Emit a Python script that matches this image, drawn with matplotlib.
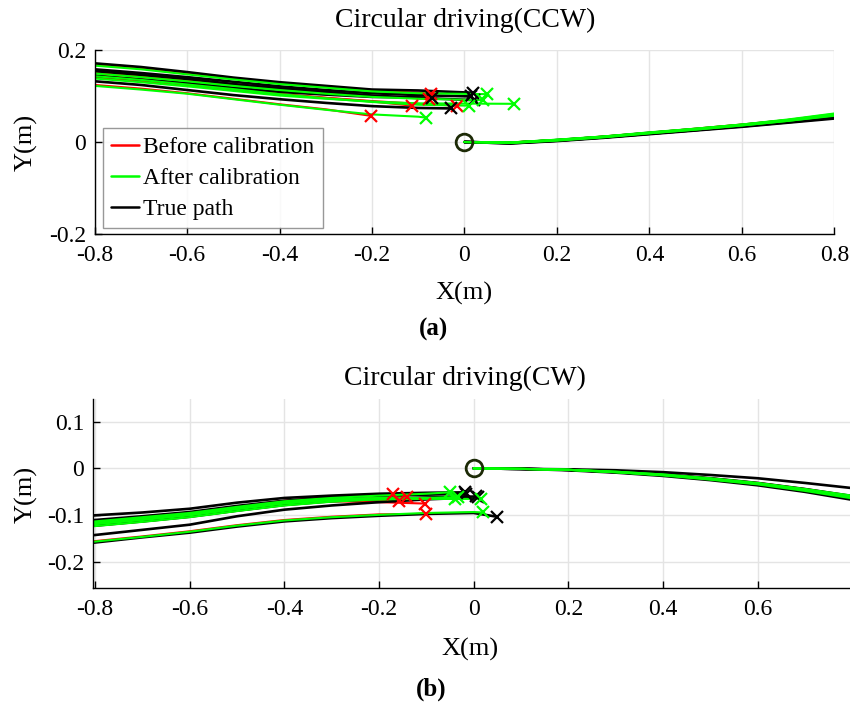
import matplotlib

matplotlib.use("Agg")
import matplotlib.pyplot as plt
import numpy as np

plt.rcParams["font.family"] = ["Liberation Serif", "DejaVu Serif"]
plt.rcParams["font.size"] = 17

# --- CCW run: x grids for the outgoing (right) and returning (left) legs ----
ccw_right_x = [0.0, 0.1, 0.2, 0.3, 0.4, 0.5, 0.6, 0.7, 0.8, 0.85]
ccw_left_x = [-0.85, -0.8, -0.7, -0.6, -0.5, -0.4, -0.3, -0.2, -0.1]

ccw_true_right = [
    [0, -0.002, 0.003, 0.010, 0.018, 0.026, 0.034, 0.043, 0.053, 0.058],
    [0, -0.003, 0.002, 0.009, 0.017, 0.025, 0.033, 0.042, 0.051, 0.056],
    [0, -0.002, 0.004, 0.011, 0.019, 0.027, 0.036, 0.045, 0.056, 0.061],
    [0, -0.003, 0.003, 0.010, 0.018, 0.026, 0.035, 0.044, 0.054, 0.059],
    [0, -0.002, 0.004, 0.011, 0.020, 0.028, 0.037, 0.047, 0.058, 0.063],
]
ccw_after_right = [
    [0, -0.001, 0.005, 0.012, 0.020, 0.029, 0.038, 0.048, 0.061, 0.067],
    [0, -0.002, 0.004, 0.011, 0.019, 0.027, 0.036, 0.046, 0.058, 0.063],
    [0, -0.001, 0.004, 0.011, 0.020, 0.028, 0.037, 0.047, 0.060, 0.066],
    [0, -0.002, 0.003, 0.010, 0.019, 0.027, 0.036, 0.046, 0.057, 0.062],
    [0, -0.001, 0.005, 0.012, 0.021, 0.029, 0.038, 0.049, 0.062, 0.068],
]
ccw_before_right = [
    [0, -0.001, 0.004, 0.011, 0.020, 0.028, 0.037, 0.047, 0.059, 0.065],
    [0, -0.002, 0.003, 0.010, 0.018, 0.026, 0.035, 0.045, 0.056, 0.061],
    [0, -0.001, 0.004, 0.011, 0.019, 0.028, 0.037, 0.047, 0.059, 0.064],
    [0, -0.002, 0.003, 0.010, 0.018, 0.026, 0.035, 0.045, 0.056, 0.061],
    [0, -0.001, 0.004, 0.012, 0.020, 0.029, 0.038, 0.048, 0.060, 0.066],
]
ccw_true_left = [
    [0.176, 0.171, 0.163, 0.152, 0.140, 0.130, 0.122, 0.114, 0.112],
    [0.163, 0.158, 0.150, 0.141, 0.131, 0.121, 0.113, 0.106, 0.102],
    [0.159, 0.154, 0.146, 0.137, 0.126, 0.117, 0.109, 0.101, 0.096],
    [0.149, 0.144, 0.136, 0.128, 0.118, 0.109, 0.103, 0.098, 0.097],
    [0.137, 0.132, 0.124, 0.113, 0.102, 0.093, 0.085, 0.078, 0.074],
]
ccw_after_left = [
    [0.171, 0.166, 0.158, 0.147, 0.136, 0.126, 0.118, 0.110, 0.106],
    [0.154, 0.149, 0.141, 0.132, 0.122, 0.113, 0.105, 0.098, 0.094],
    [0.143, 0.138, 0.130, 0.121, 0.111, 0.101, 0.094, 0.088, 0.084],
    [0.148, 0.143, 0.135, 0.125, 0.115, 0.104, 0.095, 0.087, 0.081],
    [0.127, 0.122, 0.114, 0.105, 0.093, 0.081, 0.070, 0.060, 0.055],
]
ccw_before_left = [
    [0.173, 0.168, 0.160, 0.149, 0.138, 0.128, 0.120, 0.112, 0.107],
    [0.156, 0.151, 0.143, 0.134, 0.124, 0.115, 0.107, 0.100, 0.095],
    [0.145, 0.140, 0.132, 0.123, 0.113, 0.103, 0.096, 0.089, 0.083],
    [0.150, 0.145, 0.137, 0.127, 0.116, 0.105, 0.096, 0.088],
    [0.129, 0.124, 0.116, 0.106, 0.094, 0.082, 0.071],
]
ccw_true_end = [(0.019, 0.107), (0.015, 0.099), (0.021, 0.091), (-0.070, 0.096), (-0.029, 0.073)]
ccw_after_end = [(0.049, 0.104), (0.041, 0.091), (0.108, 0.083), (0.009, 0.079), (-0.084, 0.053)]
ccw_before_end = [(-0.073, 0.105), (-0.077, 0.094), (-0.016, 0.079), (-0.113, 0.079), (-0.203, 0.057)]

# --- CW run ------------------------------------------------------------------
cw_right_x = [0.0, 0.1, 0.2, 0.3, 0.4, 0.5, 0.6, 0.7, 0.8, 0.85]
cw_left_x = [-0.85, -0.8, -0.7, -0.6, -0.5, -0.4, -0.3, -0.2, -0.1, 0.0]

cw_true_right = [
    [0, -0.001, -0.003, -0.007, -0.013, -0.021, -0.031, -0.044, -0.059, -0.066],
    [0, -0.001, -0.002, -0.004, -0.008, -0.014, -0.021, -0.031, -0.042, -0.048],
    [0, -0.001, -0.003, -0.008, -0.014, -0.023, -0.034, -0.047, -0.063, -0.071],
    [0, -0.001, -0.003, -0.007, -0.013, -0.022, -0.033, -0.046, -0.061, -0.069],
    [0, -0.001, -0.004, -0.009, -0.016, -0.025, -0.036, -0.050, -0.067, -0.075],
]
cw_after_right = [
    [0, -0.001, -0.003, -0.008, -0.014, -0.022, -0.032, -0.045, -0.060, -0.068],
    [0, -0.001, -0.003, -0.007, -0.013, -0.021, -0.031, -0.044, -0.058, -0.065],
    [0, -0.001, -0.003, -0.008, -0.014, -0.023, -0.033, -0.046, -0.062, -0.070],
    [0, -0.001, -0.003, -0.007, -0.013, -0.022, -0.032, -0.045, -0.060, -0.067],
    [0, -0.001, -0.003, -0.008, -0.015, -0.024, -0.034, -0.048, -0.064, -0.072],
]
cw_before_right = [
    [0, -0.001, -0.003, -0.007, -0.014, -0.022, -0.032, -0.045, -0.060, -0.067],
    [0, -0.001, -0.003, -0.007, -0.013, -0.021, -0.031, -0.044, -0.059, -0.066],
    [0, -0.001, -0.003, -0.008, -0.014, -0.023, -0.033, -0.047, -0.062, -0.070],
    [0, -0.001, -0.003, -0.007, -0.013, -0.022, -0.032, -0.045, -0.060, -0.068],
    [0, -0.001, -0.003, -0.008, -0.015, -0.024, -0.034, -0.048, -0.064, -0.071],
]
cw_true_left = [
    [-0.163, -0.158, -0.147, -0.137, -0.124, -0.113, -0.106, -0.101, -0.097, -0.095],
    [-0.105, -0.100, -0.094, -0.086, -0.073, -0.063, -0.058, -0.054, -0.052],
    [-0.147, -0.142, -0.131, -0.120, -0.102, -0.088, -0.079, -0.072, -0.066, -0.062],
    [-0.115, -0.110, -0.102, -0.093, -0.080, -0.069, -0.062, -0.058, -0.056],
    [-0.127, -0.122, -0.113, -0.103, -0.090, -0.078, -0.070, -0.065, -0.062, -0.060],
]
cw_after_left = [
    [-0.161, -0.156, -0.146, -0.135, -0.122, -0.111, -0.104, -0.099, -0.095, -0.093],
    [-0.118, -0.113, -0.104, -0.095, -0.082, -0.070, -0.063, -0.058, -0.054],
    [-0.124, -0.119, -0.110, -0.100, -0.087, -0.075, -0.068, -0.066, -0.065, -0.065],
    [-0.128, -0.123, -0.114, -0.104, -0.091, -0.079, -0.071, -0.066, -0.063],
    [-0.121, -0.116, -0.107, -0.098, -0.085, -0.073, -0.066, -0.063, -0.063],
]
cw_before_left = [
    [-0.160, -0.155, -0.145, -0.134, -0.121, -0.110, -0.103, -0.098],
    [-0.117, -0.112, -0.103, -0.094, -0.081, -0.069, -0.061, -0.056],
    [-0.125, -0.120, -0.111, -0.101, -0.088, -0.076, -0.070, -0.068],
    [-0.127, -0.122, -0.113, -0.103, -0.090, -0.078, -0.069, -0.063],
    [-0.122, -0.117, -0.108, -0.099, -0.086, -0.075, -0.070, -0.072],
]
cw_true_end = [(0.049, -0.103), (-0.019, -0.051), (0.009, -0.060), (-0.017, -0.054), (0.005, -0.058)]
cw_after_end = [(0.020, -0.094), (-0.051, -0.051), (0.016, -0.065), (-0.033, -0.061), (-0.040, -0.065)]
cw_before_end = [(-0.100, -0.097), (-0.171, -0.054), (-0.157, -0.069), (-0.140, -0.061), (-0.102, -0.075)]

SERIES = [
    ("Before calibration", "#ff0000", 1.5),
    ("After calibration", "#00ff00", 1.5),
    ("True path", "black", 1.9),
]


def path(right_x, right_y, left_x, left_y, end):
    # outgoing leg from the origin, gap, then the returning leg to the end point
    xs = list(right_x) + [np.nan] + list(left_x[: len(left_y)]) + [end[0]]
    ys = list(right_y) + [np.nan] + list(left_y) + [end[1]]
    return xs, ys


def draw(ax, right_x, left_x, runs):
    handles = {}
    order = [0, 2, 1]  # red under black, green on top
    for k in order:
        label, color, lw = SERIES[k]
        rights, lefts, ends = runs[k]
        for ry, ly, end in zip(rights, lefts, ends):
            xs, ys = path(right_x, ry, left_x, ly, end)
            (ln,) = ax.plot(xs, ys, color=color, lw=lw, solid_capstyle="round")
            handles[k] = ln
    for k in order:
        label, color, lw = SERIES[k]
        ends = runs[k][2]
        ax.plot([e[0] for e in ends], [e[1] for e in ends], "x", color=color,
                ms=9, mew=1.6, zorder=4)
    ax.plot([0], [0], "o", ms=12, mfc="none", mec="#1c2a06", mew=2, zorder=5)
    return [handles[0], handles[1], handles[2]]


def style(ax):
    for s in ("top", "right"):
        ax.spines[s].set_visible(False)
    for s in ("left", "bottom"):
        ax.spines[s].set_linewidth(1.0)
    ax.tick_params(direction="in", length=5, width=1, labelsize=17)
    ax.tick_params(axis="x", pad=8)
    ax.tick_params(axis="y", pad=6)
    ax.grid(True, color="#e4e4e4", lw=1)
    ax.set_axisbelow(True)


fig = plt.figure(figsize=(8.5, 7.05), dpi=100)
W, H = 850, 705

# --- (a) CCW -----------------------------------------------------------------
ax1 = fig.add_axes([94.7 / W, 1 - 234 / H, 739.6 / W, 184 / H])
h = draw(ax1, ccw_right_x, ccw_left_x, [
    (ccw_before_right, ccw_before_left, ccw_before_end),
    (ccw_after_right, ccw_after_left, ccw_after_end),
    (ccw_true_right, ccw_true_left, ccw_true_end),
])
ax1.set_xlim(-0.8, 0.8)
ax1.set_ylim(-0.2, 0.2)
ax1.set_xticks(np.round(np.arange(-0.8, 0.81, 0.2), 1))
ax1.set_yticks([-0.2, 0, 0.2])
ax1.set_xticklabels(["-0.8", "-0.6", "-0.4", "-0.2", "0", "0.2", "0.4", "0.6", "0.8"])
ax1.set_yticklabels(["-0.2", "0", "0.2"])
style(ax1)
leg = ax1.legend(h, [s[0] for s in SERIES], loc="lower left",
                 bbox_to_anchor=(0.011, 0.03), fontsize=17, frameon=True,
                 fancybox=False, edgecolor="#7f7f7f", handlelength=1.2,
                 handletextpad=0.17, borderpad=0.35, labelspacing=0.4,
                 borderaxespad=0)
leg.get_frame().set_linewidth(1.0)
for ln in leg.get_lines():
    ln.set_linewidth(1.8)

# --- (b) CW ------------------------------------------------------------------
ax2 = fig.add_axes([92.7 / W, 1 - 588 / H, 757.3 / W, 189 / H])
draw(ax2, cw_right_x, cw_left_x, [
    (cw_before_right, cw_before_left, cw_before_end),
    (cw_after_right, cw_after_left, cw_after_end),
    (cw_true_right, cw_true_left, cw_true_end),
])
ax2.set_xlim(-0.805, 0.795)
ax2.set_ylim(-0.255, 0.148)
ax2.set_xticks(np.round(np.arange(-0.8, 0.61, 0.2), 1))
ax2.set_yticks([-0.2, -0.1, 0, 0.1])
ax2.set_xticklabels(["-0.8", "-0.6", "-0.4", "-0.2", "0", "0.2", "0.4", "0.6"])
ax2.set_yticklabels(["-0.2", "-0.1", "0", "0.1"])
style(ax2)

# --- titles, axis labels and panel letters --------------------------------------
fig.text(465 / W, 1 - 27 / H, "Circular driving(CCW)", ha="center", va="baseline", fontsize=20)
fig.text(465 / W, 1 - 385 / H, "Circular driving(CW)", ha="center", va="baseline", fontsize=20)
fig.text(464 / W, 1 - 300 / H, "X(m)", ha="center", va="baseline", fontsize=19)
fig.text(470 / W, 1 - 656 / H, "X(m)", ha="center", va="baseline", fontsize=19)
fig.text(26 / W, 1 - 142 / H, "Y(m)", ha="center", va="center", rotation=90, fontsize=19)
fig.text(26 / W, 1 - 494 / H, "Y(m)", ha="center", va="center", rotation=90, fontsize=19)
fig.text(434 / W, 1 - 336 / H, "(a)", ha="center", va="baseline", fontsize=18, fontweight="bold")
fig.text(431 / W, 1 - 696 / H, "(b)", ha="center", va="baseline", fontsize=18, fontweight="bold")

fig.savefig("out.png", dpi=100)
